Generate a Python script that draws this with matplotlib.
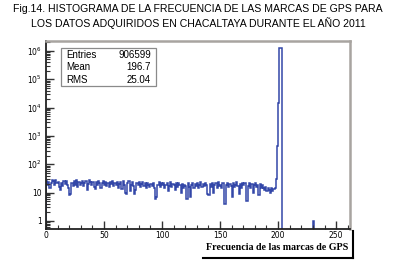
import matplotlib
matplotlib.use("Agg")
import matplotlib.pyplot as plt
import numpy as np
from matplotlib.lines import Line2D
from matplotlib.patches import Rectangle

# GPS mark frequency histogram values (bins of width 1, 0..262)
noise_counts = [
    26, 18, 24, 15, 22, 28, 25, 19, 27, 21,
    24, 16, 12, 22, 17, 26, 20, 25, 18, 15,
    8, 9, 21, 17, 25, 19, 27, 16, 23, 18,
    21, 26, 17, 22, 25, 12, 20, 27, 24, 18,
    23, 16, 13, 24, 19, 26, 21, 14, 22, 25,
    19, 24, 17, 22, 16, 23, 20, 25, 17, 21,
    18, 23, 15, 20, 24, 13, 26, 19, 10, 9,
    22, 25, 11, 19, 24, 17, 9, 12, 21, 18,
    23, 16, 20, 24, 17, 21, 15, 22, 19, 16,
    20, 17, 22, 15, 6, 7, 19, 23, 16, 21,
    18, 22, 15, 19, 21, 11, 17, 23, 16, 20,
    19, 12, 21, 16, 22, 18, 10, 20, 15, 19,
    17, 6, 21, 16, 7, 19, 22, 14, 20, 17,
    21, 15, 19, 23, 16, 20, 17, 22, 18, 9,
    8, 20, 16, 22, 10, 18, 21, 15, 23, 17,
    19, 15, 21, 4, 4, 18, 22, 16, 20, 17,
    7, 21, 16, 19, 23, 17, 9, 20, 15, 22,
    18, 21, 5, 5, 17, 22, 15, 20, 10, 18,
    21, 16, 19, 8, 20, 15, 18, 14, 12, 16,
    11, 14, 12, 10, 15, 11, 13,
]
peak_counts = [14, 30, 450, 14000, 1.25e6, 1.25e6]  # bins 197..202
tail_bin = 230
tail_count = 1
n_bins = 262

stats_labels = ["Entries", "Mean", "RMS"]
stats_values = ["906599", "196.7", "25.04"]

y_ticks = [1, 10, 1e2, 1e3, 1e4, 1e5, 1e6]
y_ticklabels = ["1", "10", "$10^2$", "$10^3$", "$10^4$", "$10^5$", "$10^6$"]
x_ticks = [0, 50, 100, 150, 200, 250]

counts = np.zeros(n_bins)
counts[:len(noise_counts)] = noise_counts
counts[197:197 + len(peak_counts)] = peak_counts
counts[tail_bin] = tail_count
counts[counts == 0] = 1e-3  # below the axis, so empty bins drop out of view
edges = np.arange(n_bins + 1)

fig = plt.figure(figsize=(3.96, 2.62), dpi=100)
ax = fig.add_axes([0.116, 0.126, 0.768, 0.718])

ax.stairs(counts, edges, color="#3347a8", linewidth=1.1)

ax.set_yscale("log")
ax.set_xlim(0, 262)
ax.set_ylim(0.52, 2.26e6)
ax.set_yticks(y_ticks)
ax.set_yticklabels(y_ticklabels)
ax.set_xticks(x_ticks)
ax.set_xticks(np.arange(0, 262, 10), minor=True)
ax.tick_params(axis="both", which="major", direction="in", labelsize=5.5,
               width=1, length=5.5, pad=1.5, color="#333333")
ax.tick_params(axis="both", which="minor", direction="in", width=0.8,
               length=3, color="#333333")
ax.tick_params(axis="y", which="major", pad=3)

for side in ["left", "bottom"]:
    ax.spines[side].set_color("#222222")
    ax.spines[side].set_linewidth(1.3)
for side in ["top", "right"]:
    ax.spines[side].set_color("#a8a4a0")
    ax.spines[side].set_linewidth(1.8)

# stats box
box = Rectangle((61 / 396, 1 - 86 / 262), 95 / 396, 38 / 262,
                transform=fig.transFigure, facecolor="white",
                edgecolor="#8a8a8a", linewidth=0.9, zorder=5)
fig.patches.append(box)
for i, (lab, val) in enumerate(zip(stats_labels, stats_values)):
    y = 1 - (55 + i * 12.5) / 262
    fig.text(66 / 396, y, lab, fontsize=7, ha="left", va="center",
             family="Liberation Sans", zorder=6)
    fig.text(151 / 396, y, val, fontsize=7, ha="right", va="center",
             family="Liberation Sans", zorder=6)

# title
fig.text(0.5, 1 - 9 / 262, "Fig.14. HISTOGRAMA DE LA FRECUENCIA DE LAS MARCAS DE GPS PARA",
         ha="center", va="center", fontsize=7.6, family="Liberation Sans")
fig.text(0.5, 1 - 23 / 262, "LOS DATOS ADQUIRIDOS EN CHACALTAYA DURANTE EL AÑO 2011",
         ha="center", va="center", fontsize=7.6, family="Liberation Sans")

# x label with shadow lines
fig.text(277 / 396, 1 - 248 / 262, "Frecuencia de las marcas de GPS",
         ha="center", va="center", fontsize=7.2, fontweight="bold",
         family="Liberation Serif")
fig.lines.append(Line2D([353 / 396, 353 / 396], [1 - 231 / 262, 1 - 258 / 262],
                        transform=fig.transFigure, color="black", linewidth=1.5))
fig.lines.append(Line2D([203 / 396, 353 / 396], [1 - 258 / 262, 1 - 258 / 262],
                        transform=fig.transFigure, color="black", linewidth=1.5))

fig.savefig("out.png", dpi=100)
